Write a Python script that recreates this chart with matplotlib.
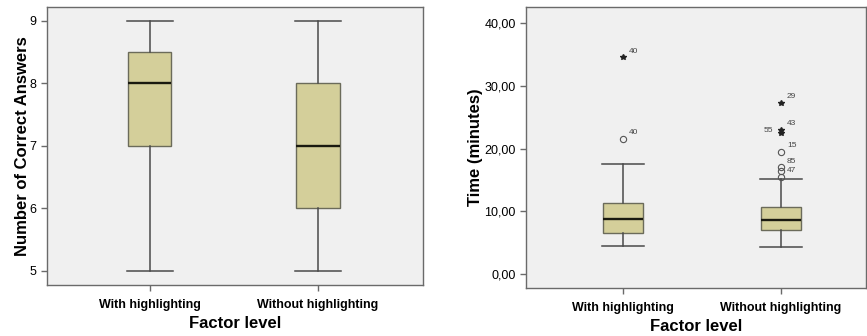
import matplotlib
matplotlib.use("Agg")
import matplotlib.pyplot as plt

# ---- data ----
categories = ["With highlighting", "Without highlighting"]

correct_low = [5, 5]
correct_q1 = [7, 6]
correct_med = [8, 7]
correct_q3 = [8.5, 8]
correct_high = [9, 9]

time_low = [4.5, 4.3]
time_q1 = [6.5, 7.1]
time_med = [8.8, 8.7]
time_q3 = [11.4, 10.7]
time_high = [17.5, 15.1]

# outliers: category index, value, kind ('o' mild, '*' extreme), case label
out_cat = [0, 0, 1, 1, 1, 1, 1, 1, 1]
out_val = [34.5, 21.5, 27.2, 22.9, 22.5, 19.4, 17.0, 16.5, 15.5]
out_kind = ['*', 'o', '*', '*', '*', 'o', 'o', 'o', 'o']
out_label = ['40', '40', '29', '43', '55', '15', '85', '', '47']

time_ticks = [0, 10, 20, 30, 40]
time_ticklabels = ["0,00", "10,00", "20,00", "30,00", "40,00"]
correct_ticks = [5, 6, 7, 8, 9]

plt.rcParams['font.family'] = ['Liberation Sans', 'DejaVu Sans']

BG = "#f0f0f0"
FILL = "#d4cf9a"
EDGE = "#6b6b5a"
SPINE = "#6a6a6a"

fig = plt.figure(figsize=(8.67, 3.36), dpi=100)
ax1 = fig.add_axes([47/867, 1-285/336, (423-47)/867, (285-7)/336])
ax2 = fig.add_axes([526/867, 1-287.7/336, (866-526)/867, (287.7-7)/336])


def make_stats(low, q1, med, q3, high):
    return [dict(whislo=low[i], q1=q1[i], med=med[i], q3=q3[i], whishi=high[i], fliers=[])
            for i in range(len(low))]


def style_box(ax, stats, width):
    ax.bxp(stats, positions=[1, 2], widths=width, patch_artist=True, showfliers=False,
           boxprops=dict(facecolor=FILL, edgecolor=EDGE, linewidth=1.0),
           medianprops=dict(color="#1a1a10", linewidth=1.7),
           whiskerprops=dict(color="#4a4a4a", linewidth=1.1),
           capprops=dict(color="#4a4a4a", linewidth=1.1),
           capwidths=width*1.05)
    ax.set_facecolor(BG)
    for s in ax.spines.values():
        s.set_color(SPINE)
        s.set_linewidth(1.0)
    ax.set_xticks([1, 2])
    ax.set_xticklabels(categories, fontsize=9.5, fontweight='bold')
    ax.tick_params(axis='both', direction='out', length=4, color=SPINE, width=1.0, labelsize=9)
    ax.tick_params(axis='x', pad=6)


style_box(ax1, make_stats(correct_low, correct_q1, correct_med, correct_q3, correct_high), 0.256)
ax1.set_xlim(0.387, 2.625)
ax1.set_ylim(4.77, 9.22)
ax1.set_yticks(correct_ticks)
ax1.set_yticklabels([str(t) for t in correct_ticks], fontsize=9)
ax1.set_ylabel("Number of Correct Answers", fontsize=12, fontweight='bold', labelpad=0)
ax1.set_xlabel("Factor level", fontsize=12, fontweight='bold', labelpad=4)

style_box(ax2, make_stats(time_low, time_q1, time_med, time_q3, time_high), 0.253)
ax2.set_xlim(0.388, 2.54)
ax2.set_ylim(-2.13, 42.5)
ax2.set_yticks(time_ticks)
ax2.set_yticklabels(time_ticklabels, fontsize=9)
ax2.set_ylabel("Time (minutes)", fontsize=12, fontweight='bold', labelpad=1)
ax2.set_xlabel("Factor level", fontsize=12, fontweight='bold', labelpad=4)

for c, v, k, lab in zip(out_cat, out_val, out_kind, out_label):
    x = c + 1
    if k == 'o':
        ax2.plot(x, v, marker='o', markersize=4.5, markerfacecolor='none',
                 markeredgecolor="#555555", markeredgewidth=0.8, linestyle='none')
    else:
        ax2.plot(x, v, marker='*', markersize=3.8, color="#222222", linestyle='none')
    if lab:
        if lab == '55':
            ax2.text(x - 0.05, v + 0.3, lab, fontsize=6, color="#444444", ha='right', va='center')
        else:
            ax2.text(x + 0.04, v + 1.0, lab, fontsize=6, color="#444444", ha='left', va='center')

fig.savefig("out.png", dpi=100)
